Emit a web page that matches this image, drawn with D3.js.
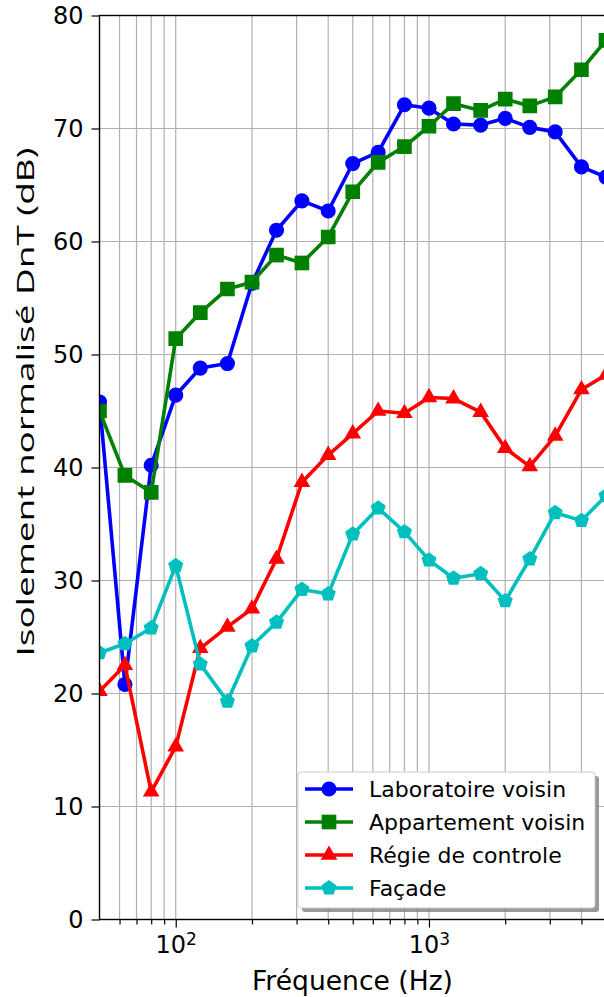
<!DOCTYPE html>
<html>
<head>
<meta charset="utf-8">
<script src="https://cdn.jsdelivr.net/npm/d3@7/dist/d3.min.js"></script>
<style>
  body { margin: 0; background: #fff; }
  .grid line { stroke: #b0b0b0; stroke-width: 1.2px; }
  .axis path { display: none; }
  .axis line { stroke: #000; stroke-width: 1.2px; }
  .axis text { font-family: "DejaVu Sans", sans-serif; fill: #000; }
  .line { fill: none; stroke-width: 3.6px; stroke-linejoin: round; }
</style>
</head>
<body>
<div id="container"></div>
<script>
  // bandes de tiers d'octave
  let frequences = [50, 63, 80, 100, 125, 160, 200, 250, 315, 400, 500, 630, 800,
    1000, 1250, 1600, 2000, 2500, 3150, 4000, 5000];

  let laboratoire = [45.8, 20.8, 40.2, 46.4, 48.8, 49.2, 56.3, 61.0, 63.6, 62.7, 66.9,
    67.9, 72.1, 71.8, 70.4, 70.3, 70.9, 70.1, 69.7, 66.6, 65.7];
  let appartement = [45.0, 39.3, 37.8, 51.4, 53.7, 55.8, 56.4, 58.8, 58.1, 60.4, 64.4,
    67.0, 68.4, 70.2, 72.2, 71.6, 72.6, 72.0, 72.8, 75.2, 77.8];
  let regie = [20.2, 22.5, 11.3, 15.3, 24.0, 25.9, 27.5, 31.9, 38.7, 41.1, 43.0,
    45.0, 44.8, 46.2, 46.1, 44.9, 41.7, 40.1, 42.8, 46.9, 48.2];
  let facade = [23.6, 24.4, 25.8, 31.3, 22.6, 19.3, 24.2, 26.3, 29.2, 28.8, 34.1,
    36.4, 34.3, 31.8, 30.2, 30.6, 28.2, 31.9, 36.0, 35.3, 37.5];

  let nomsSeries = ["Laboratoire voisin", "Appartement voisin", "Régie de controle", "Façade"];
  let yTicks = [0, 10, 20, 30, 40, 50, 60, 70, 80];
  let xMajorTicks = [100, 1000];
  let xLimites = [50, 5000];

  // marqueur pentagone (absent de d3)
  let symbolPentagon = {
    draw(context, size) {
      let r = Math.sqrt(size / 2.378);
      for (let i = 0; i < 5; i++) {
        let a = -Math.PI / 2 + i * 2 * Math.PI / 5;
        if (i === 0) context.moveTo(r * Math.cos(a), r * Math.sin(a));
        else context.lineTo(r * Math.cos(a), r * Math.sin(a));
      }
      context.closePath();
    }
  };

  let series = [
    { nom: nomsSeries[0], valeurs: laboratoire, couleur: "#0000ff", symbole: d3.symbolCircle, taille: 180 },
    { nom: nomsSeries[1], valeurs: appartement, couleur: "#008000", symbole: d3.symbolSquare, taille: 215 },
    { nom: nomsSeries[2], valeurs: regie, couleur: "#ff0000", symbole: d3.symbolTriangle, taille: 120 },
    { nom: nomsSeries[3], valeurs: facade, couleur: "#00bfbf", symbole: symbolPentagon, taille: 150 }
  ];

  let margin = { top: 15.5, left: 99.5 };
  let width = 506.5;
  let height = 904;

  let scaleX = d3.scaleLog()
    .domain(xLimites)
    .range([0, width]);

  let scaleY = d3.scaleLinear()
    .domain([0, 80])
    .range([height, 0]);

  // toutes les graduations log (majeures + mineures)
  let xAllTicks = scaleX.ticks().filter(function(t) {
    return t > xLimites[0] && t < xLimites[1];
  });
  let xMinorTicks = xAllTicks.filter(function(t) {
    return xMajorTicks.indexOf(t) < 0;
  });

  let svg = d3.select("#container").append("svg")
    .attr("width", 604)
    .attr("height", 997);

  svg.append("defs").append("clipPath")
    .attr("id", "clip")
    .append("rect")
    .attr("width", width)
    .attr("height", height);

  let g = svg.append("g")
    .attr("transform", "translate(" + margin.left + "," + margin.top + ")");

  // grille
  let grid = g.append("g").attr("class", "grid");
  grid.selectAll(".gx")
    .data(xAllTicks)
    .enter().append("line")
    .attr("x1", function(d) { return scaleX(d); })
    .attr("x2", function(d) { return scaleX(d); })
    .attr("y1", 0)
    .attr("y2", height);
  grid.selectAll(".gy")
    .data(yTicks)
    .enter().append("line")
    .attr("x1", 0)
    .attr("x2", width)
    .attr("y1", function(d) { return scaleY(d); })
    .attr("y2", function(d) { return scaleY(d); });

  // courbes
  let line = d3.line()
    .x(function(d, i) { return scaleX(frequences[i]); })
    .y(function(d) { return scaleY(d); });

  let plot = g.append("g").attr("clip-path", "url(#clip)");

  series.forEach(function(s) {
    plot.append("path")
      .datum(s.valeurs)
      .attr("class", "line")
      .attr("stroke", s.couleur)
      .attr("d", line);

    plot.selectAll(null)
      .data(s.valeurs)
      .enter().append("path")
      .attr("transform", function(d, i) {
        return "translate(" + scaleX(frequences[i]) + "," + scaleY(d) + ")";
      })
      .attr("fill", s.couleur)
      .attr("d", d3.symbol().type(s.symbole).size(s.taille));
  });

  // axe y
  let yAxis = d3.axisLeft(scaleY)
    .tickValues(yTicks)
    .tickSize(8)
    .tickPadding(8);

  g.append("g")
    .attr("class", "y axis")
    .call(yAxis)
    .selectAll("text")
    .style("font-size", "24px");

  // axe x : graduations mineures
  g.append("g")
    .attr("class", "x axis")
    .attr("transform", "translate(0," + height + ")")
    .call(d3.axisBottom(scaleX).tickValues(xMinorTicks).tickSize(5).tickFormat(""));

  // axe x : graduations majeures 10^n
  let xMajor = g.append("g")
    .attr("class", "x axis")
    .attr("transform", "translate(0," + height + ")")
    .call(d3.axisBottom(scaleX).tickValues(xMajorTicks).tickSize(8).tickFormat(""));

  let labels = xMajor.selectAll(".tick").append("text")
    .attr("y", 33)
    .attr("text-anchor", "middle")
    .style("font-size", "24px");
  labels.append("tspan").text("10");
  labels.append("tspan")
    .attr("dy", "-0.45em")
    .style("font-size", "17px")
    .text(function(d) { return Math.round(Math.log10(d)); });

  // cadre
  g.append("rect")
    .attr("width", width)
    .attr("height", height)
    .attr("fill", "none")
    .attr("stroke", "#000")
    .attr("stroke-width", 1.4);

  // titres des axes
  svg.append("text")
    .attr("x", 352.5)
    .attr("y", 990)
    .attr("text-anchor", "middle")
    .attr("textLength", 201)
    .attr("lengthAdjust", "spacingAndGlyphs")
    .style("font-family", "DejaVu Sans, sans-serif")
    .style("font-size", "26px")
    .text("Fréquence (Hz)");

  svg.append("text")
    .attr("transform", "translate(34,402) rotate(-90)")
    .attr("text-anchor", "middle")
    .attr("textLength", 509)
    .attr("lengthAdjust", "spacingAndGlyphs")
    .style("font-family", "Open Sans, sans-serif")
    .style("font-size", "24px")
    .text("Isolement normalisé DnT (dB)");

  // légende
  let legend = svg.append("g")
    .attr("transform", "translate(298,772)");

  legend.append("rect")
    .attr("x", 4)
    .attr("y", 4)
    .attr("width", 297)
    .attr("height", 136)
    .attr("rx", 3)
    .attr("fill", "#808080")
    .attr("opacity", 0.8);

  legend.append("rect")
    .attr("width", 297)
    .attr("height", 136)
    .attr("rx", 3)
    .attr("fill", "#fff")
    .attr("stroke", "#cccccc")
    .attr("stroke-width", 1);

  let items = legend.selectAll(".item")
    .data(series)
    .enter().append("g")
    .attr("transform", function(d, i) { return "translate(0," + (17 + i * 33) + ")"; });

  items.append("line")
    .attr("x1", 7)
    .attr("x2", 55)
    .attr("stroke", function(d) { return d.couleur; })
    .attr("stroke-width", 3.6);

  items.append("path")
    .attr("transform", "translate(31,0)")
    .attr("fill", function(d) { return d.couleur; })
    .attr("d", function(d) { return d3.symbol().type(d.symbole).size(d.taille)(); });

  items.append("text")
    .attr("x", 71)
    .attr("dy", "0.36em")
    .style("font-family", "DejaVu Sans, sans-serif")
    .style("font-size", "22px")
    .text(function(d) { return d.nom; });
</script>
</body>
</html>
